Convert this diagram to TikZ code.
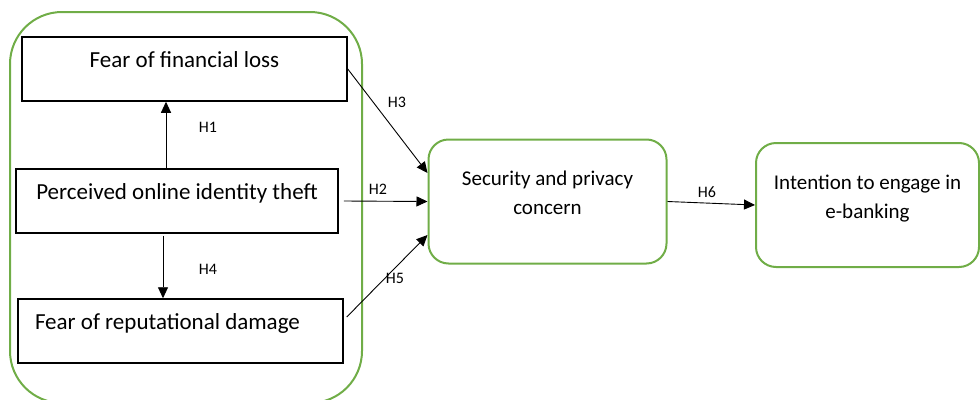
\documentclass[tikz,border=0pt]{standalone}
\usepackage{fontspec}
\setmainfont{Carlito}
\usepackage{xcolor}
\definecolor{boxgreen}{RGB}{112,173,71}
\usetikzlibrary{arrows.meta}

\begin{document}
\begin{tikzpicture}[x=1pt,y=-1pt,
    blk/.style={draw,line width=1.5pt,minimum width=325pt,minimum height=64pt,inner sep=0pt,
      font=\fontsize{23}{27}\selectfont,text height=14pt,text depth=18pt},
    rnd/.style={draw=boxgreen,line width=2pt,rounded corners=20pt,minimum height=124pt,inner sep=0pt,
      align=center,font=\fontsize{21}{29}\selectfont,text height=44pt,text depth=18pt},
    arr/.style={-{Triangle[length=11pt,width=10pt]},line width=0.9pt},
    hyp/.style={font=\fontsize{16}{19}\selectfont,inner sep=0pt}]
        \useasboundingbox(0,0)rectangle(980,399);
        \node[draw=boxgreen,line width=2pt,rounded corners=52pt,minimum width=352pt,minimum height=391pt](grp)at(186,207.5){};
        \node[blk](fin)at(184.5,69){Fear of financial loss};
        \node[blk,minimum width=322pt](perc)at(177,201){Perceived online identity theft};
        \node[blk,text width=291pt,align=flush left](rep)at(180.5,331){Fear of reputational damage};
        \node[rnd,minimum width=238pt](sec)at(547.5,201.5){Security and privacy\\concern};
        \node[rnd,minimum width=223pt](int)at(867.5,205){Intention to engage in\\e-banking};
        \draw[arr]([xshift=-11pt]perc.north)--([xshift=-11pt]perc.north|-fin.south);
        \draw[arr]([xshift=-14pt,yshift=-2pt]perc.south)--([xshift=-14pt]perc.south|-rep.north);
        \draw[arr](fin.east)--([yshift=28.5pt]sec.west);
        \draw[arr]([xshift=5pt]perc.east)--(sec.west);
        \draw[arr]([xshift=3pt,yshift=14pt]rep.east)--([yshift=-33.5pt]sec.west);
        \draw[arr](sec.east)--(int.west);
        \node[hyp](h1)at(208,127){H1};
        \node[hyp](h2)at(378,189){H2};
        \node[hyp](h3)at(397,102){H3};
        \node[hyp](h4)at(208,269){H4};
        \node[hyp](h5)at(395,278){H5};
        \node[hyp](h6)at(707,192){H6};
\end{tikzpicture}
\end{document}
